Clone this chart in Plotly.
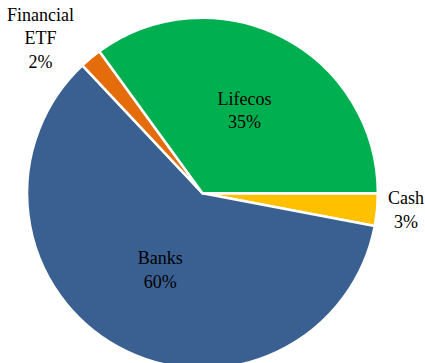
import plotly.graph_objects as go

# Portfolio allocation by sector (percent of holdings)
labels = ["Cash", "Banks", "Financial<br>ETF", "Lifecos"]
shares = [3, 60, 2, 35]
colors = ["#FFC000", "#3A6092", "#E46C0A", "#00B050"]

# The canvas is larger than the visible window so the pie can run off the bottom edge
FIG_W, FIG_H = 470, 410
CX, CY, R = 199, 190, 178  # pie centre and radius in pixels
FONT = "Liberation Serif, Times New Roman, serif"

fig = go.Figure(
    go.Pie(
        labels=labels,
        values=shares,
        sort=False,
        direction="clockwise",
        rotation=90,
        marker=dict(colors=colors, line=dict(color="white", width=2.5)),
        texttemplate="%{label}<br>%{percent:.0%}",
        textposition=["outside", "inside", "outside", "inside"],
        insidetextorientation="horizontal",
        textfont=dict(family=FONT, size=18, color="black"),
        outsidetextfont=dict(family=FONT, size=18, color="black"),
        insidetextfont=dict(family=FONT, size=18, color="black"),
        showlegend=False,
        hoverinfo="label+percent",
        domain=dict(
            x=[(CX - R) / FIG_W, (CX + R) / FIG_W],
            y=[1 - (CY + R) / FIG_H, 1 - (CY - R) / FIG_H],
        ),
    )
)

fig.update_layout(
    width=FIG_W,
    height=FIG_H,
    margin=dict(l=0, r=0, t=0, b=0),
    paper_bgcolor="white",
    plot_bgcolor="white",
)

fig.write_html(
    "out.html",
    post_script="document.body.style.margin='0';document.body.style.overflow='hidden';document.documentElement.style.overflow='hidden';",
)
